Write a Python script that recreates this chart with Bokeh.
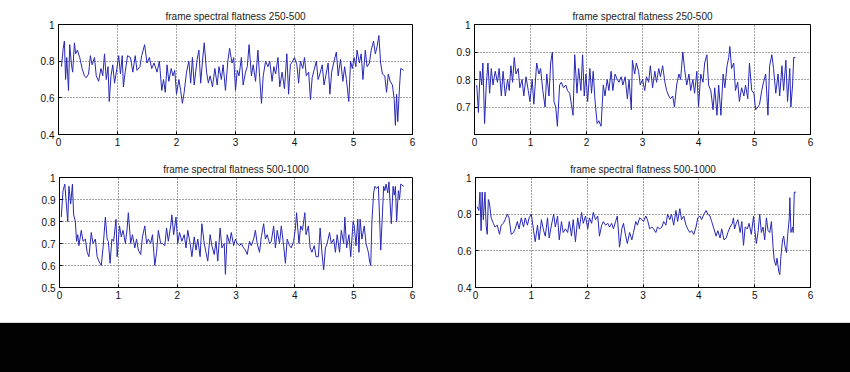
from bokeh.plotting import figure
from bokeh.layouts import column, row
from bokeh.models import FixedTicker, PrintfTickFormatter, Range1d, Div
from bokeh.embed import file_html
from bokeh.resources import INLINE

# ---------------- data ----------------
tl_title = "frame spectral flatness 250-500"
tl_x = [0.05,0.08,0.10,0.12,0.14,0.17,0.19,0.22,0.24,0.27,
        0.29,0.32,0.36,0.40,0.44,0.47,0.51,0.54,0.57,0.61,
        0.64,0.68,0.72,0.75,0.78,0.81,0.84,0.86,0.89,0.92,
        0.95,0.99,1.02,1.05,1.08,1.10,1.13,1.17,1.22,1.26,
        1.30,1.33,1.38,1.41,1.46,1.50,1.54,1.58,1.62,1.67,
        1.71,1.75,1.78,1.81,1.84,1.87,1.91,1.94,1.97,2.00,
        2.04,2.07,2.10,2.13,2.17,2.21,2.24,2.27,2.30,2.35,
        2.38,2.41,2.44,2.47,2.51,2.54,2.57,2.61,2.65,2.69,
        2.72,2.76,2.79,2.83,2.87,2.90,2.94,2.97,3.00,3.03,
        3.06,3.10,3.13,3.17,3.20,3.23,3.27,3.30,3.34,3.38,
        3.41,3.44,3.47,3.51,3.55,3.58,3.62,3.65,3.68,3.72,
        3.75,3.79,3.83,3.87,3.90,3.93,3.97,4.00,4.04,4.07,
        4.10,4.14,4.17,4.20,4.24,4.27,4.30,4.33,4.37,4.40,
        4.43,4.47,4.50,4.53,4.57,4.60,4.63,4.67,4.71,4.74,
        4.78,4.82,4.85,4.88,4.92,4.95,4.98,5.01,5.04,5.06,
        5.10,5.13,5.16,5.20,5.23,5.27,5.30,5.34,5.37,5.40,
        5.43,5.46,5.49,5.53,5.56,5.59,5.62,5.66,5.69,5.71,
        5.73,5.75,5.78,5.80,5.85]
tl_y = [0.77,0.87,0.91,0.70,0.82,0.64,0.89,0.78,0.74,0.90,
        0.84,0.86,0.82,0.76,0.72,0.71,0.73,0.83,0.78,0.82,
        0.72,0.69,0.76,0.72,0.84,0.70,0.77,0.58,0.72,0.78,
        0.68,0.76,0.83,0.73,0.83,0.66,0.74,0.83,0.82,0.74,
        0.83,0.75,0.77,0.83,0.89,0.79,0.82,0.76,0.79,0.74,
        0.80,0.64,0.70,0.63,0.78,0.69,0.76,0.72,0.75,0.62,
        0.70,0.64,0.57,0.63,0.74,0.80,0.68,0.82,0.67,0.81,
        0.86,0.68,0.80,0.90,0.74,0.68,0.72,0.66,0.76,0.67,
        0.77,0.70,0.78,0.64,0.80,0.87,0.79,0.82,0.64,0.75,
        0.72,0.82,0.67,0.74,0.77,0.89,0.72,0.78,0.69,0.86,
        0.71,0.57,0.72,0.80,0.77,0.80,0.69,0.77,0.73,0.82,
        0.66,0.74,0.65,0.84,0.62,0.78,0.80,0.82,0.78,0.68,
        0.80,0.76,0.82,0.72,0.74,0.59,0.71,0.75,0.80,0.70,
        0.73,0.78,0.67,0.72,0.79,0.62,0.74,0.80,0.85,0.72,
        0.81,0.69,0.77,0.70,0.58,0.80,0.76,0.82,0.77,0.86,
        0.79,0.84,0.70,0.86,0.77,0.79,0.86,0.91,0.84,0.88,
        0.94,0.79,0.73,0.72,0.63,0.73,0.69,0.67,0.59,0.45,
        0.62,0.47,0.66,0.76,0.75]
tl_yticks = [0.4, 0.6, 0.8, 1.0]

tr_title = "frame spectral flatness 250-500"
tr_x = [0.04,0.07,0.10,0.13,0.15,0.18,0.21,0.24,0.27,0.30,
        0.33,0.37,0.41,0.44,0.48,0.51,0.55,0.59,0.62,0.65,
        0.68,0.71,0.74,0.78,0.81,0.85,0.88,0.92,0.96,0.99,
        1.03,1.06,1.11,1.15,1.18,1.22,1.26,1.29,1.33,1.36,
        1.39,1.42,1.45,1.48,1.52,1.55,1.59,1.63,1.66,1.70,
        1.73,1.76,1.79,1.83,1.86,1.90,1.93,1.96,1.99,2.02,
        2.06,2.09,2.12,2.15,2.19,2.22,2.26,2.30,2.33,2.37,
        2.40,2.44,2.47,2.51,2.55,2.58,2.62,2.65,2.69,2.73,
        2.76,2.80,2.82,2.86,2.89,2.93,2.96,3.00,3.04,3.07,
        3.11,3.14,3.18,3.22,3.25,3.29,3.32,3.36,3.40,3.43,
        3.47,3.50,3.54,3.57,3.61,3.65,3.68,3.72,3.75,3.79,
        3.83,3.86,3.90,3.93,3.97,4.00,4.04,4.08,4.11,4.15,
        4.18,4.22,4.26,4.29,4.33,4.36,4.40,4.44,4.47,4.51,
        4.54,4.56,4.59,4.63,4.66,4.70,4.73,4.77,4.81,4.84,
        4.88,4.91,4.95,4.99,5.02,5.06,5.09,5.13,5.16,5.20,
        5.24,5.27,5.31,5.34,5.38,5.42,5.45,5.49,5.52,5.56,
        5.59,5.63,5.65,5.68,5.70,5.73]
tr_y = [0.78,0.68,0.83,0.78,0.86,0.64,0.78,0.86,0.75,0.84,
        0.78,0.83,0.79,0.84,0.74,0.83,0.74,0.80,0.76,0.85,
        0.79,0.88,0.82,0.84,0.77,0.80,0.74,0.81,0.76,0.72,
        0.80,0.71,0.86,0.82,0.84,0.76,0.70,0.82,0.74,0.86,
        0.90,0.72,0.70,0.63,0.78,0.79,0.77,0.78,0.76,0.75,
        0.71,0.67,0.89,0.75,0.84,0.76,0.89,0.74,0.82,0.72,
        0.84,0.75,0.83,0.73,0.64,0.65,0.63,0.78,0.74,0.80,
        0.76,0.83,0.76,0.82,0.80,0.79,0.81,0.78,0.81,0.73,
        0.80,0.69,0.87,0.82,0.86,0.83,0.78,0.80,0.76,0.81,
        0.79,0.85,0.77,0.83,0.79,0.84,0.81,0.85,0.79,0.76,
        0.74,0.73,0.74,0.70,0.78,0.82,0.80,0.90,0.84,0.78,
        0.82,0.76,0.80,0.75,0.83,0.70,0.82,0.79,0.86,0.89,
        0.78,0.76,0.69,0.77,0.67,0.78,0.67,0.82,0.77,0.85,
        0.88,0.92,0.84,0.86,0.76,0.79,0.72,0.77,0.74,0.78,
        0.73,0.86,0.76,0.75,0.69,0.70,0.71,0.76,0.79,0.82,
        0.67,0.85,0.89,0.84,0.75,0.82,0.74,0.85,0.76,0.87,
        0.72,0.84,0.70,0.78,0.88,0.88]
tr_yticks = [0.7, 0.8, 0.9, 1.0]

bl_title = "frame spectral flatness 500-1000"
bl_x = [0.03,0.06,0.09,0.11,0.14,0.16,0.19,0.22,0.24,0.27,
        0.29,0.31,0.33,0.37,0.40,0.44,0.47,0.50,0.54,0.57,
        0.61,0.64,0.67,0.71,0.74,0.78,0.81,0.83,0.86,0.89,
        0.92,0.96,0.98,1.02,1.05,1.08,1.12,1.15,1.17,1.21,
        1.24,1.28,1.31,1.34,1.38,1.41,1.45,1.48,1.51,1.55,
        1.58,1.62,1.65,1.68,1.72,1.75,1.79,1.82,1.85,1.89,
        1.91,1.94,1.98,2.01,2.04,2.08,2.12,2.15,2.18,2.22,
        2.25,2.29,2.32,2.35,2.39,2.42,2.46,2.49,2.52,2.56,
        2.59,2.63,2.66,2.69,2.73,2.76,2.80,2.82,2.85,2.89,
        2.92,2.96,2.99,3.02,3.06,3.09,3.13,3.16,3.19,3.23,
        3.26,3.30,3.33,3.36,3.40,3.43,3.47,3.50,3.53,3.57,
        3.60,3.64,3.67,3.70,3.74,3.77,3.81,3.84,3.87,3.91,
        3.94,3.98,4.01,4.03,4.07,4.10,4.13,4.17,4.19,4.23,
        4.26,4.29,4.33,4.36,4.40,4.43,4.46,4.49,4.52,4.55,
        4.59,4.62,4.66,4.69,4.72,4.76,4.79,4.83,4.85,4.88,
        4.92,4.95,4.99,5.01,5.04,5.07,5.09,5.11,5.14,5.18,
        5.21,5.25,5.27,5.29,5.31,5.34,5.36,5.39,5.42,5.44,
        5.46,5.49,5.51,5.53,5.55,5.58,5.60,5.62,5.64,5.67,
        5.69,5.71,5.73,5.76,5.78,5.80,5.85]
bl_y = [0.82,0.94,0.97,0.90,0.80,0.96,0.88,0.97,0.83,0.80,
        0.71,0.74,0.69,0.76,0.71,0.72,0.66,0.64,0.75,0.70,
        0.72,0.64,0.62,0.60,0.68,0.82,0.72,0.71,0.61,0.72,
        0.71,0.81,0.64,0.78,0.73,0.76,0.70,0.77,0.84,0.70,
        0.74,0.68,0.72,0.67,0.65,0.73,0.78,0.70,0.72,0.70,
        0.74,0.60,0.66,0.76,0.70,0.70,0.69,0.77,0.71,0.78,
        0.83,0.74,0.82,0.70,0.75,0.71,0.74,0.68,0.76,0.70,
        0.64,0.73,0.67,0.72,0.64,0.79,0.70,0.66,0.62,0.74,
        0.69,0.65,0.71,0.62,0.77,0.68,0.70,0.56,0.74,0.70,
        0.75,0.69,0.72,0.70,0.69,0.70,0.68,0.67,0.65,0.71,
        0.69,0.72,0.76,0.70,0.66,0.73,0.79,0.72,0.74,0.70,
        0.71,0.78,0.68,0.76,0.70,0.78,0.69,0.61,0.72,0.69,
        0.68,0.71,0.77,0.84,0.70,0.78,0.76,0.84,0.74,0.78,
        0.68,0.66,0.69,0.64,0.64,0.77,0.66,0.58,0.68,0.70,
        0.75,0.70,0.72,0.66,0.74,0.66,0.76,0.70,0.82,0.68,
        0.74,0.64,0.80,0.78,0.69,0.81,0.66,0.81,0.72,0.78,
        0.70,0.66,0.62,0.60,0.80,0.93,0.96,0.95,0.96,0.82,
        0.67,0.84,0.96,0.94,0.97,0.93,0.98,0.88,0.79,0.96,
        0.92,0.96,0.80,0.94,0.90,0.97,0.96]
bl_yticks = [0.5, 0.6, 0.7, 0.8, 0.9, 1.0]

br_title = "frame spectral flatness 500-1000"
br_x = [0.03,0.06,0.08,0.10,0.12,0.14,0.17,0.19,0.21,0.23,
        0.25,0.28,0.32,0.35,0.39,0.43,0.46,0.50,0.53,0.57,
        0.60,0.64,0.68,0.71,0.75,0.78,0.82,0.86,0.89,0.93,
        0.96,1.00,1.04,1.07,1.11,1.14,1.18,1.22,1.25,1.29,
        1.32,1.36,1.40,1.43,1.47,1.50,1.54,1.57,1.61,1.65,
        1.68,1.72,1.75,1.79,1.83,1.86,1.90,1.93,1.97,2.01,
        2.04,2.08,2.11,2.15,2.19,2.22,2.26,2.29,2.33,2.37,
        2.40,2.44,2.47,2.51,2.54,2.58,2.62,2.65,2.69,2.72,
        2.76,2.80,2.83,2.87,2.90,2.94,2.98,3.01,3.05,3.08,
        3.12,3.16,3.19,3.23,3.26,3.30,3.34,3.37,3.41,3.44,
        3.48,3.51,3.55,3.59,3.62,3.66,3.69,3.73,3.77,3.80,
        3.84,3.87,3.91,3.95,3.98,4.02,4.05,4.09,4.13,4.16,
        4.20,4.23,4.27,4.31,4.34,4.38,4.41,4.45,4.49,4.52,
        4.56,4.60,4.62,4.64,4.67,4.70,4.74,4.77,4.80,4.83,
        4.87,4.90,4.94,4.98,5.00,5.03,5.06,5.09,5.12,5.15,
        5.18,5.21,5.24,5.27,5.30,5.33,5.35,5.38,5.40,5.43,
        5.45,5.47,5.50,5.52,5.54,5.57,5.59,5.62,5.63,5.65,
        5.68,5.69,5.71,5.74]
br_y = [0.84,0.82,0.92,0.71,0.92,0.77,0.92,0.74,0.69,0.88,
        0.86,0.78,0.75,0.73,0.74,0.69,0.74,0.75,0.77,0.80,
        0.78,0.69,0.70,0.72,0.76,0.72,0.78,0.73,0.78,0.74,
        0.78,0.80,0.71,0.65,0.74,0.66,0.77,0.71,0.68,0.78,
        0.67,0.74,0.80,0.73,0.79,0.66,0.76,0.70,0.72,0.70,
        0.76,0.68,0.77,0.65,0.78,0.72,0.81,0.75,0.79,0.72,
        0.78,0.75,0.81,0.77,0.79,0.68,0.74,0.76,0.74,0.75,
        0.73,0.75,0.72,0.76,0.79,0.62,0.72,0.75,0.68,0.64,
        0.70,0.66,0.70,0.76,0.74,0.78,0.77,0.76,0.79,0.77,
        0.72,0.73,0.72,0.70,0.73,0.72,0.73,0.76,0.74,0.80,
        0.77,0.80,0.74,0.82,0.76,0.83,0.77,0.79,0.74,0.72,
        0.70,0.71,0.69,0.73,0.78,0.79,0.77,0.80,0.82,0.80,
        0.79,0.76,0.72,0.68,0.71,0.67,0.72,0.66,0.67,0.70,
        0.73,0.75,0.78,0.72,0.75,0.77,0.70,0.76,0.63,0.73,
        0.72,0.75,0.69,0.79,0.72,0.64,0.70,0.80,0.70,0.73,
        0.66,0.78,0.71,0.70,0.76,0.62,0.55,0.52,0.56,0.49,
        0.47,0.57,0.66,0.68,0.63,0.59,0.68,0.78,0.89,0.70,
        0.73,0.70,0.92,0.92]
br_yticks = [0.4, 0.6, 0.8, 1.0]

x_ticks = [0, 1, 2, 3, 4, 5, 6]

FONT = "Liberation Sans"
LINE = "#2828b4"


def panel(title, xs, ys, yticks, ymin, w, h, bl, br, bt, bb):
    n = min(len(xs), len(ys))
    p = figure(width=w, height=h, output_backend="svg", toolbar_location=None,
               x_range=Range1d(0, 6), y_range=Range1d(ymin, 1.0),
               min_border_left=bl, min_border_right=br,
               min_border_top=bt, min_border_bottom=bb,
               title=title)
    p.line(xs[:n], ys[:n], line_color=LINE, line_width=1)
    p.title.align = "center"
    p.title.text_font = FONT
    p.title.text_font_size = "10px"
    p.title.text_font_style = "normal"
    p.title.text_color = "#222222"
    p.title.standoff = 6
    p.title.offset = 0
    p.outline_line_color = "black"
    p.outline_line_width = 1
    p.outline_line_alpha = 1
    p.background_fill_color = "white"
    p.border_fill_color = "white"
    p.xaxis.ticker = FixedTicker(ticks=x_ticks)
    p.yaxis.ticker = FixedTicker(ticks=yticks)
    p.yaxis.formatter = PrintfTickFormatter(format="%g")
    for ax in (p.xaxis, p.yaxis):
        ax.axis_line_color = "black"
        ax.major_tick_in = 3
        ax.major_tick_out = 0
        ax.minor_tick_line_color = None
        ax.major_tick_line_color = "black"
        ax.major_label_text_font = FONT
        ax.major_label_text_font_size = "10px"
        ax.major_label_text_color = "#111111"
    p.xaxis.major_label_standoff = 3
    p.yaxis.major_label_standoff = 4
    for g in (p.xgrid, p.ygrid):
        g.grid_line_color = "#333333"
        g.grid_line_dash = "1 2"
        g.grid_line_width = 1
        g.grid_line_alpha = 0.9
    return p


p1 = panel(tl_title, tl_x, tl_y, tl_yticks, 0.4, 433, 158, 58, 21, 24, 24)
p2 = panel(tr_title, tr_x, tr_y, tr_yticks, 0.6, 417, 158, 41, 40, 24, 24)
p3 = panel(bl_title, bl_x, bl_y, bl_yticks, 0.5, 433, 156, 59, 21, 19, 27)
p4 = panel(br_title, br_x, br_y, br_yticks, 0.4, 417, 156, 42, 40, 19, 27)

band = Div(text='<div style="position:fixed;left:0;top:322px;width:850px;height:50px;'
                'background:#020202;border-top:1px solid #d8d8d8"></div>',
           width=10, height=1)

layout = column(row(p1, p2), row(p3, p4), band)

open("out.html", "w").write(file_html(layout, INLINE))
